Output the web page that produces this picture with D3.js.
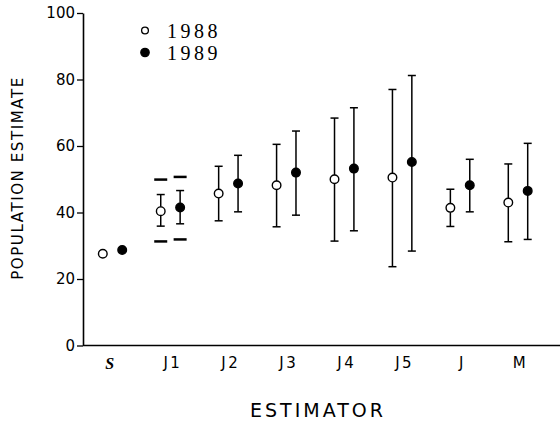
<!DOCTYPE html>
<html>
<head>
<meta charset="utf-8">
<script src="https://d3js.org/d3.v7.min.js"></script>
<style>
  body { margin: 0; background: #fff; }
  text { fill: #000; }
</style>
</head>
<body>
<div id="chart"></div>
<script>
// estimator categories and tick labels
var categories = ["S", "J1", "J2", "J3", "J4", "J5", "J", "M"];
var yTicks = [0, 20, 40, 60, 80, 100];

// point estimates and interval ends
var est1988 = [27.6, 40.4, 45.7, 48.2, 50.0, 50.5, 41.4, 43.0];
var lo1988  = [null, 35.9, 37.5, 35.7, 31.4, 23.7, 35.8, 31.2];
var hi1988  = [null, 45.4, 53.9, 60.5, 68.4, 77.0, 47.0, 54.6];
var est1989 = [28.7, 41.5, 48.7, 52.0, 53.2, 55.2, 48.2, 46.5];
var lo1989  = [null, 36.6, 40.2, 39.2, 34.5, 28.4, 40.2, 31.9];
var hi1989  = [null, 46.6, 57.2, 64.5, 71.5, 81.2, 56.0, 60.8];

// extra J1 bounds drawn as dashes (1988, 1989)
var dashLo = [31.3, 31.9];
var dashHi = [49.9, 50.7];

var W = 560, H = 423;
var svg = d3.select("#chart").append("svg")
  .attr("width", W).attr("height", H);

var y = d3.scaleLinear().domain([0, 100]).range([345.5, 13]);
var x = d3.scalePoint().domain(categories).range([112.5, 518]);
var off = 9.7;

// y axis
var yAxis = svg.append("g")
  .attr("transform", "translate(83,0)")
  .call(d3.axisLeft(y).tickValues(yTicks).tickSize(6).tickSizeOuter(0).tickPadding(2));
yAxis.select(".domain").attr("stroke-width", 1.6);
yAxis.selectAll(".tick line").attr("stroke-width", 1.3);
yAxis.selectAll(".tick text")
  .style("font-family", "DejaVu Sans")
  .style("font-size", "15px");

// x axis
var xAxis = svg.append("g")
  .attr("transform", "translate(0," + y(0) + ")")
  .call(d3.axisBottom(x).tickSize(0).tickPadding(12));
xAxis.select(".domain").attr("d", "M83,0H560").attr("stroke-width", 1.6);
xAxis.selectAll(".tick text")
  .attr("dx", 2)
  .style("font-family", "DejaVu Sans")
  .style("font-size", "15px")
  .style("letter-spacing", "2.5px")
  .filter(function (d) { return d === "S"; })
  .attr("dx", -2)
  .style("font-family", "Liberation Serif")
  .style("font-style", "italic")
  .style("font-weight", "bold")
  .style("font-size", "16px");

// axis titles
svg.append("text")
  .attr("x", 318).attr("y", 417)
  .attr("text-anchor", "middle")
  .style("font-family", "DejaVu Sans")
  .style("font-size", "19px")
  .style("letter-spacing", "3px")
  .text("ESTIMATOR");

svg.append("text")
  .attr("transform", "translate(23,178) rotate(-90)")
  .attr("text-anchor", "middle")
  .style("font-family", "DejaVu Sans")
  .style("font-size", "15px")
  .style("letter-spacing", "1.6px")
  .text("POPULATION ESTIMATE");

// build rows per year
var series = [
  { year: "1988", dx: -off, est: est1988, lo: lo1988, hi: hi1988, fill: "#fff" },
  { year: "1989", dx: off, est: est1989, lo: lo1989, hi: hi1989, fill: "#000" }
];

var plot = svg.append("g");
series.forEach(function (s, k) {
  var rows = categories.map(function (c, i) {
    return { cat: c, est: s.est[i], lo: s.lo[i], hi: s.hi[i] };
  });
  var bars = rows.filter(function (d) { return d.lo !== null; });
  var g = plot.append("g").attr("stroke", "#000").attr("stroke-width", 1.5);

  g.selectAll("line.bar").data(bars).enter().append("line")
    .attr("x1", function (d) { return x(d.cat) + s.dx; })
    .attr("x2", function (d) { return x(d.cat) + s.dx; })
    .attr("y1", function (d) { return y(d.lo); })
    .attr("y2", function (d) { return y(d.hi); });

  ["lo", "hi"].forEach(function (key) {
    g.selectAll("line.cap" + key).data(bars).enter().append("line")
      .attr("x1", function (d) { return x(d.cat) + s.dx - 4; })
      .attr("x2", function (d) { return x(d.cat) + s.dx + 4; })
      .attr("y1", function (d) { return y(d[key]); })
      .attr("y2", function (d) { return y(d[key]); });
  });

  // J1 dashes
  [dashLo[k], dashHi[k]].forEach(function (v) {
    g.append("line")
      .attr("x1", x("J1") + s.dx - 6.5)
      .attr("x2", x("J1") + s.dx + 6.5)
      .attr("y1", y(v)).attr("y2", y(v))
      .attr("stroke-width", 2.5);
  });

  g.selectAll("circle").data(rows).enter().append("circle")
    .attr("cx", function (d) { return x(d.cat) + s.dx; })
    .attr("cy", function (d) { return y(d.est); })
    .attr("r", 4.3)
    .attr("fill", s.fill)
    .attr("stroke-width", 1.4);
});

// legend
var legend = svg.append("g").attr("transform", "translate(145,0)");
series.forEach(function (s, k) {
  legend.append("circle")
    .attr("cx", 0).attr("cy", 30.5 + k * 22)
    .attr("r", k === 0 ? 3.4 : 4.2)
    .attr("fill", s.fill)
    .attr("stroke", "#000").attr("stroke-width", 1.3);
  legend.append("text")
    .attr("x", 22).attr("y", 37.5 + k * 22.5)
    .style("font-family", "Liberation Serif")
    .style("font-size", "20px")
    .style("letter-spacing", "3.5px")
    .text(s.year);
});
</script>
</body>
</html>
